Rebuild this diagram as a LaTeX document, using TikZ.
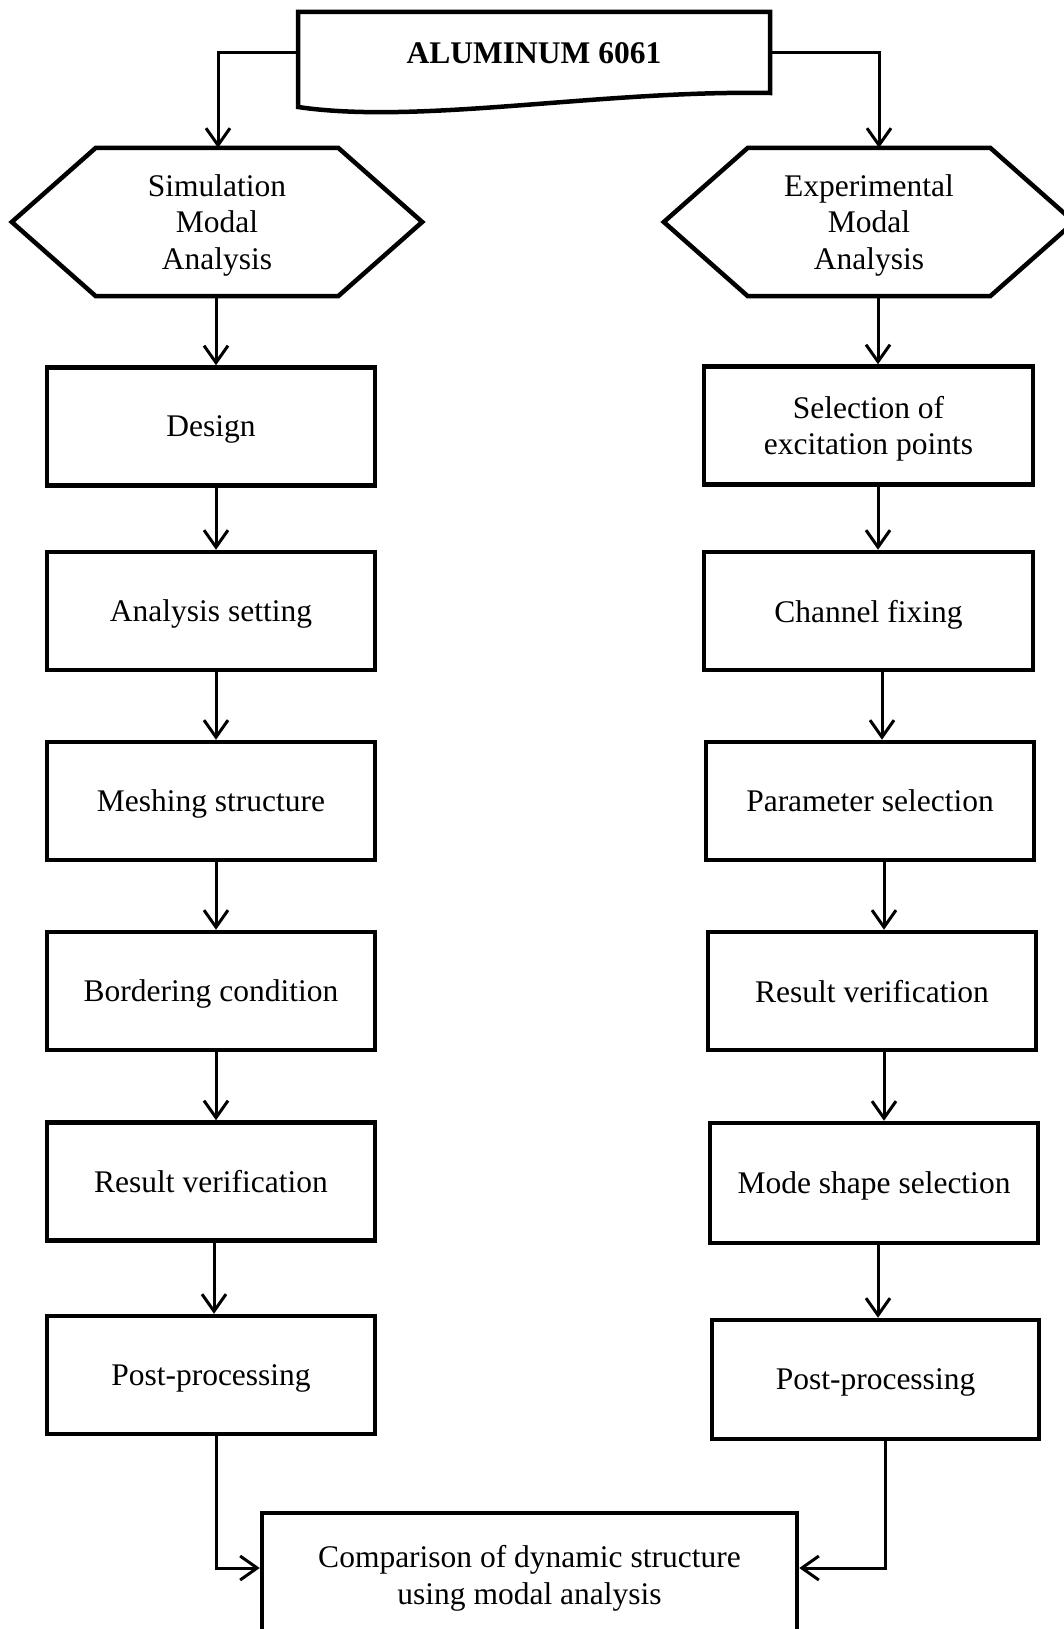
\documentclass[tikz,border=0pt]{standalone}
\usepackage{fontspec}
\setmainfont{Liberation Serif}
\usetikzlibrary{arrows.meta}
\begin{document}
\begin{tikzpicture}[x=1pt,y=-1pt,
  font=\fontsize{31.5}{36.5}\selectfont,
  box/.style={draw,line width=4.5pt,line join=miter,minimum width=328pt,minimum height=118pt,inner sep=0pt,align=center,text depth=0pt},
  hexnode/.style={minimum width=410pt,minimum height=148pt,inner sep=0pt,align=center,text depth=0pt},
  thick4/.style={line width=4.5pt,line join=miter},
  arr/.style={line width=3pt,-{Straight Barb[length=17pt,width=24pt]}},
  conn/.style={line width=3pt}]
\useasboundingbox (0,0) rectangle (1064,1629);

% top document shape
\node[minimum width=472pt,minimum height=82pt,inner sep=0pt,text depth=0pt,font=\fontsize{31.5}{36.5}\selectfont\bfseries] (alu) at (534,53) {ALUMINUM 6061};
\draw[thick4] (298,107) -- (298,12) -- (770,12) -- (770,93)
  .. controls (600,90) and (420,125) .. (298,107) -- cycle;

% hexagons
\node[hexnode] (sim) at (217,222) {Simulation\\Modal\\Analysis};
\node[hexnode] (exp) at (869,222) {Experimental\\Modal\\Analysis};
\foreach \h in {sim,exp}{
  \draw[thick4] (\h.west) -- ([xshift=84pt]\h.north west) -- ([xshift=-84pt]\h.north east)
    -- (\h.east) -- ([xshift=-84pt]\h.south east) -- ([xshift=84pt]\h.south west) -- cycle;
}

% left column
\node[box] (design) at (211,426.5) {Design};
\node[box] (anaset) at (211,611) {Analysis setting};
\node[box] (mesh)   at (211,801) {Meshing structure};
\node[box] (border) at (211,991) {Bordering condition};
\node[box] (lres)   at (211,1181.5) {Result verification};
\node[box] (lpost)  at (211,1375) {Post-processing};

% right column
\node[box,minimum width=329pt] (sel)   at (868.5,425.5) {Selection of\\excitation points};
\node[box,minimum width=329pt] (chan)  at (868.5,611) {Channel fixing};
\node[box] (param) at (870,801) {Parameter selection};
\node[box] (rres)  at (872,991) {Result verification};
\node[box,minimum height=120pt] (mode)  at (874,1183) {Mode shape selection};
\node[box,minimum width=327pt,minimum height=119pt] (rpost) at (875.5,1379.5) {Post-processing};

% bottom box
\node[box,minimum width=535pt,minimum height=124pt] (comp) at (529.5,1575) {Comparison of dynamic structure\\using modal analysis};

% connectors from top
\draw[arr] (alu.west) -| ([xshift=1pt]sim.north);
\draw[arr] (alu.east) -| ([xshift=10pt]exp.north);

% left arrows
\draw[arr] ([xshift=-1pt]sim.south) -- ([xshift=5pt]design.north);
\draw[arr] ([xshift=5pt]design.south) -- ([xshift=5pt]anaset.north);
\draw[arr] ([xshift=5pt]anaset.south) -- ([xshift=5pt]mesh.north);
\draw[arr] ([xshift=5pt]mesh.south) -- ([xshift=5pt]border.north);
\draw[arr] ([xshift=5pt]border.south) -- ([xshift=5pt]lres.north);
\draw[arr] ([xshift=3pt]lres.south) -- ([xshift=3pt]lpost.north);

% right arrows
\draw[arr] ([xshift=9pt]exp.south) -- ([xshift=9.5pt]sel.north);
\draw[arr] ([xshift=9.5pt,yshift=5pt]sel.south) -- ([xshift=9.5pt]chan.north);
\draw[arr] ([xshift=13.5pt]chan.south) -- ([xshift=12pt]param.north);
\draw[arr] ([xshift=14pt]param.south) -- ([xshift=12pt]rres.north);
\draw[arr] ([xshift=12pt]rres.south) -- ([xshift=10pt]mode.north);
\draw[arr] ([xshift=4pt]mode.south) -- ([xshift=2.5pt]rpost.north);

% to comparison
\draw[arr] ([xshift=5pt]lpost.south) |- ([yshift=7pt]comp.west);
\draw[arr] ([xshift=9.5pt]rpost.south) |- ([yshift=7pt]comp.east);
\end{tikzpicture}
\end{document}
